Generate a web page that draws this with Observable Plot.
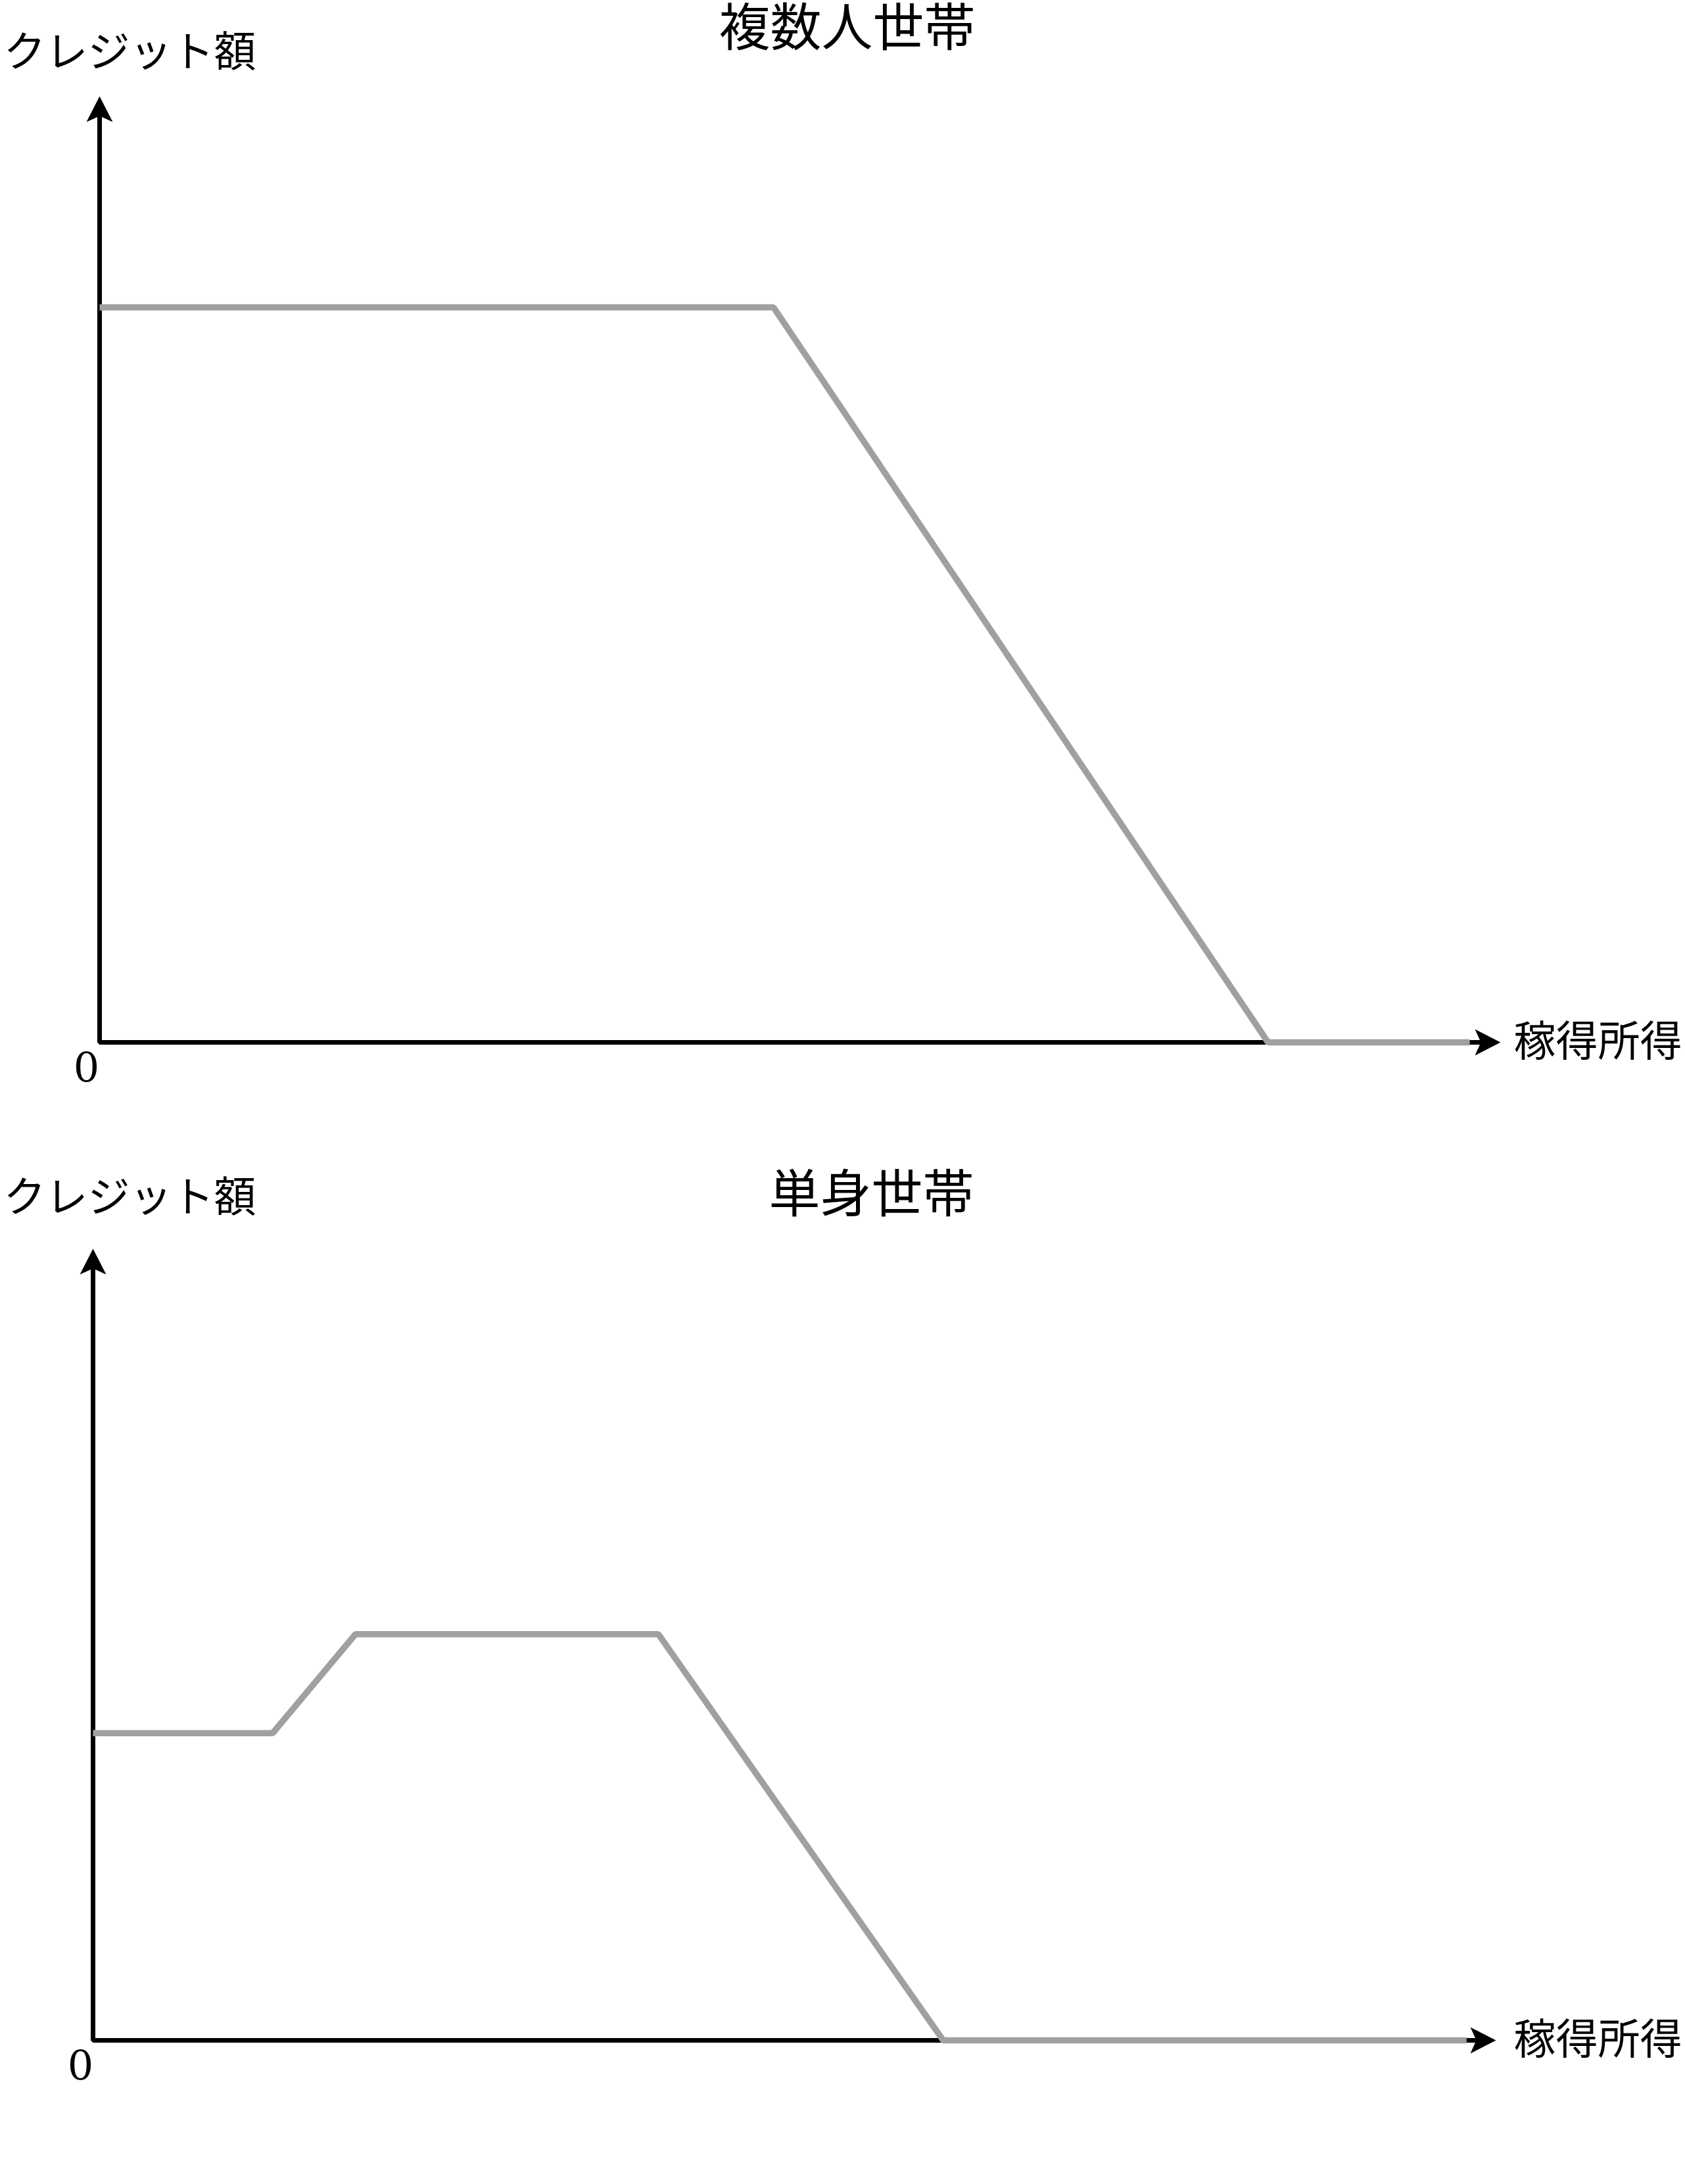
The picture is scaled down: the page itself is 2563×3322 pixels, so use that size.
<!DOCTYPE html>
<html>
<head>
<meta charset="utf-8">
<script src="https://cdn.jsdelivr.net/npm/d3@7"></script>
<script src="https://cdn.jsdelivr.net/npm/@observablehq/plot@0.6"></script>
<style>
  body { margin: 0; background: #ffffff; }
  #charts svg { display: block; }
</style>
</head>
<body>
<div id="charts"></div>
<script>
// ---- text ----
const titles = ["複数人世帯", "単身世帯"];
const yLabel = "クレジット額";
const xLabel = "稼得所得";
const originLabel = "0";

// ---- data (relative units: each axis runs 0–100 up to its arrow tip) ----
// multi-person household
const multiIncome = [0, 48.1, 83.4, 97.8];
const multiCredit = [77.7, 77.7, 0, 0];
// single household
const singleIncome = [0, 12.8, 18.7, 40.3, 60.6, 97.9];
const singleCredit = [38.8, 38.8, 51.3, 51.3, 0, 0];

const CJK = "Noto Sans CJK JP";
const GREY = "#a0a0a0";

// filled "stealth" arrow heads (tip at the symbol origin)
const headUp = { draw(ctx) { ctx.moveTo(0, 0); ctx.lineTo(20, 39); ctx.lineTo(0, 30); ctx.lineTo(-20, 39); ctx.closePath(); } };
const headRight = { draw(ctx) { ctx.moveTo(0, 0); ctx.lineTo(-39, -20); ctx.lineTo(-30, 0); ctx.lineTo(-39, 20); ctx.closePath(); } };

function panel({title, income, credit, width, height, margins, shaftY, shaftX, text}) {
  const curve = d3.zip(income, credit).map(([x, y]) => ({x, y}));
  const axisPath = [{x: 0, y: shaftY}, {x: 0, y: 0}, {x: shaftX, y: 0}];
  return Plot.plot({
    width, height,
    ...margins,
    style: {background: "#ffffff", overflow: "visible"},
    x: {domain: [0, 100], axis: null},
    y: {domain: [0, 100], axis: null},
    marks: [
      Plot.line(axisPath, {x: "x", y: "y", stroke: "black", strokeWidth: 7, strokeLinejoin: "miter", strokeLinecap: "butt"}),
      Plot.line(curve, {x: "x", y: "y", stroke: GREY, strokeWidth: 9.5, strokeLinejoin: "bevel", strokeLinecap: "butt"}),
      Plot.dot([{x: 0, y: 100}], {x: "x", y: "y", symbol: headUp, fill: "black", stroke: "none"}),
      Plot.dot([{x: 100, y: 0}], {x: "x", y: "y", symbol: headRight, fill: "black", stroke: "none"}),
      Plot.text([title], {frameAnchor: "top-left", dx: text.title[0], dy: text.title[1], text: d => d,
        fontSize: 78, fontFamily: CJK, textAnchor: "middle", lineAnchor: "bottom", fill: "black"}),
      Plot.text([yLabel], {frameAnchor: "top-left", dx: text.ylab[0], dy: text.ylab[1], text: d => d,
        fontSize: 64, fontFamily: CJK, textAnchor: "start", lineAnchor: "bottom", fill: "black"}),
      Plot.text([xLabel], {frameAnchor: "bottom-right", dx: text.xlab[0], dy: text.xlab[1], text: d => d,
        fontSize: 64, fontFamily: CJK, textAnchor: "start", lineAnchor: "bottom", fill: "black"}),
      Plot.text([originLabel], {frameAnchor: "bottom-left", dx: text.zero[0], dy: text.zero[1], text: d => d,
        fontSize: 62, fontFamily: "DejaVu Serif", textAnchor: "middle", lineAnchor: "bottom", fill: "black"})
    ]
  });
}

const root = document.getElementById("charts");
root.append(panel({
  title: titles[0], income: multiIncome, credit: multiCredit,
  width: 2563, height: 1700,
  margins: {marginLeft: 151, marginRight: 281, marginTop: 146, marginBottom: 115},
  shaftY: 98.5, shaftX: 99,
  text: {title: [1137, -76.5], ylab: [-146, -46], xlab: [20, 20], zero: [-20, 59]}
}));
root.append(panel({
  title: titles[1], income: singleIncome, credit: singleCredit,
  width: 2563, height: 1622,
  margins: {marginLeft: 141, marginRight: 288, marginTop: 199, marginBottom: 219},
  shaftY: 98.5, shaftX: 99,
  text: {title: [1184, -55.5], ylab: [-136, -57], xlab: [27, 20], zero: [-19, 59]}
}));
</script>
</body>
</html>
